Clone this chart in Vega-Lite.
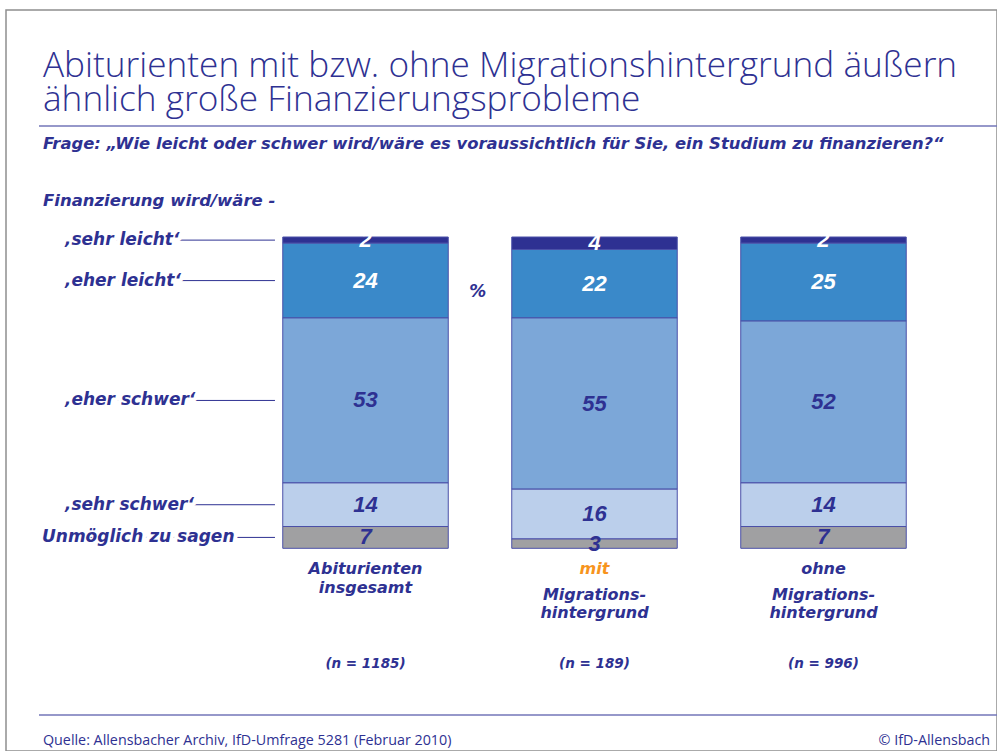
{
  "$schema": "https://vega.github.io/schema/vega-lite/v6.json",
  "width": 991,
  "height": 741,
  "autosize": "none",
  "padding": {"left": 6, "top": 10, "right": 0, "bottom": 0},
  "background": "white",
  "config": {"view": {"stroke": "#8f8f8f", "strokeWidth": 1.5}},
  "datasets": {
    "survey": [
      {"group": "Abiturienten insgesamt", "category": "‚sehr leicht‘", "value": 2},
      {"group": "Abiturienten insgesamt", "category": "‚eher leicht‘", "value": 24},
      {"group": "Abiturienten insgesamt", "category": "‚eher schwer‘", "value": 53},
      {"group": "Abiturienten insgesamt", "category": "‚sehr schwer‘", "value": 14},
      {"group": "Abiturienten insgesamt", "category": "Unmöglich zu sagen", "value": 7},
      {"group": "mit Migrationshintergrund", "category": "‚sehr leicht‘", "value": 4},
      {"group": "mit Migrationshintergrund", "category": "‚eher leicht‘", "value": 22},
      {"group": "mit Migrationshintergrund", "category": "‚eher schwer‘", "value": 55},
      {"group": "mit Migrationshintergrund", "category": "‚sehr schwer‘", "value": 16},
      {"group": "mit Migrationshintergrund", "category": "Unmöglich zu sagen", "value": 3},
      {"group": "ohne Migrationshintergrund", "category": "‚sehr leicht‘", "value": 2},
      {"group": "ohne Migrationshintergrund", "category": "‚eher leicht‘", "value": 25},
      {"group": "ohne Migrationshintergrund", "category": "‚eher schwer‘", "value": 52},
      {"group": "ohne Migrationshintergrund", "category": "‚sehr schwer‘", "value": 14},
      {"group": "ohne Migrationshintergrund", "category": "Unmöglich zu sagen", "value": 7}
    ],
    "groups": [
      {"group": "Abiturienten insgesamt", "head": "Abiturienten\ninsgesamt", "sub": "", "n": 1185},
      {"group": "mit Migrationshintergrund", "head": "mit", "sub": "Migrations-\nhintergrund", "n": 189},
      {"group": "ohne Migrationshintergrund", "head": "ohne", "sub": "Migrations-\nhintergrund", "n": 996}
    ]
  },
  "data": {"name": "survey"},
  "transform": [
    {"calculate": "indexof(['Unmöglich zu sagen', '‚sehr schwer‘', '‚eher schwer‘', '‚eher leicht‘', '‚sehr leicht‘'], datum.category)", "as": "rank"},
    {"stack": "value", "groupby": ["group"], "sort": [{"field": "rank", "order": "ascending"}], "as": ["v0", "v1"]},
    {"calculate": "(datum.v0 + datum.v1) / 2", "as": "mid"}
  ],
  "layer": [
    {
      "mark": {"type": "bar", "stroke": "#4b50a8", "strokeWidth": 1},
      "encoding": {
        "x": {"field": "group", "type": "nominal", "scale": {"type": "band", "domain": ["Abiturienten insgesamt", "mit Migrationshintergrund", "ohne Migrationshintergrund"], "range": [245, 932], "paddingInner": 0.2773, "paddingOuter": 0.1387}, "axis": null},
        "y": {"field": "v1", "type": "quantitative", "scale": {"domain": [-65.11, 172.92], "nice": false, "zero": false}, "axis": null},
        "y2": {"field": "v0"},
        "color": {"field": "category", "type": "nominal", "scale": {"domain": ["‚sehr leicht‘", "‚eher leicht‘", "‚eher schwer‘", "‚sehr schwer‘", "Unmöglich zu sagen"], "range": ["#2e3192", "#3a89c9", "#7ca7d8", "#bbcfeb", "#a0a0a2"]}, "legend": null}
      }
    },
    {
      "mark": {"type": "text", "font": "Liberation Sans", "fontSize": 22, "fontWeight": "bold", "fontStyle": "italic", "baseline": "middle", "align": "center"},
      "encoding": {
        "x": {"field": "group", "type": "nominal"},
        "y": {"field": "mid", "type": "quantitative"},
        "text": {"field": "value"},
        "color": {"condition": {"test": "datum.rank >= 3", "value": "white"}, "value": "#2e3192"}
      }
    },
    {
      "transform": [{"filter": "datum.group === 'Abiturienten insgesamt'"}],
      "mark": {"type": "rule", "color": "#2e3192", "strokeWidth": 1},
      "encoding": {
        "x": {"datum": "Abiturienten insgesamt", "type": "nominal", "bandPosition": -1.298},
        "x2": {"datum": "Abiturienten insgesamt", "bandPosition": -0.047},
        "y": {"field": "mid", "type": "quantitative"}
      }
    },
    {
      "transform": [{"filter": "datum.group === 'Abiturienten insgesamt' && datum.rank > 0"}],
      "mark": {"type": "text", "font": "DejaVu Sans", "fontSize": 17, "fontWeight": "bold", "fontStyle": "italic", "align": "left", "baseline": "middle", "fill": "white", "stroke": "white", "strokeWidth": 8, "strokeJoin": "round"},
      "encoding": {
        "x": {"datum": "Abiturienten insgesamt", "type": "nominal", "bandPosition": -1.316},
        "y": {"field": "mid", "type": "quantitative"},
        "text": {"field": "category"}
      }
    },
    {
      "transform": [{"filter": "datum.group === 'Abiturienten insgesamt' && datum.rank === 0"}],
      "mark": {"type": "text", "font": "DejaVu Sans", "fontSize": 17, "fontWeight": "bold", "fontStyle": "italic", "align": "left", "baseline": "middle", "fill": "white", "stroke": "white", "strokeWidth": 8, "strokeJoin": "round"},
      "encoding": {
        "x": {"datum": "Abiturienten insgesamt", "type": "nominal", "bandPosition": -1.455},
        "y": {"field": "mid", "type": "quantitative"},
        "text": {"field": "category"}
      }
    },
    {
      "transform": [{"filter": "datum.group === 'Abiturienten insgesamt' && datum.rank > 0"}],
      "mark": {"type": "text", "font": "DejaVu Sans", "fontSize": 17, "fontWeight": "bold", "fontStyle": "italic", "align": "left", "baseline": "middle", "color": "#2e3192"},
      "encoding": {
        "x": {"datum": "Abiturienten insgesamt", "type": "nominal", "bandPosition": -1.316},
        "y": {"field": "mid", "type": "quantitative"},
        "text": {"field": "category"}
      }
    },
    {
      "transform": [{"filter": "datum.group === 'Abiturienten insgesamt' && datum.rank === 0"}],
      "mark": {"type": "text", "font": "DejaVu Sans", "fontSize": 17, "fontWeight": "bold", "fontStyle": "italic", "align": "left", "baseline": "middle", "color": "#2e3192"},
      "encoding": {
        "x": {"datum": "Abiturienten insgesamt", "type": "nominal", "bandPosition": -1.455},
        "y": {"field": "mid", "type": "quantitative"},
        "text": {"field": "category"}
      }
    },
    {
      "data": {"values": [{}]},
      "mark": {"type": "text", "font": "DejaVu Sans", "fontSize": 17, "fontWeight": "bold", "fontStyle": "italic", "align": "center", "baseline": "middle", "color": "#2e3192"},
      "encoding": {
        "x": {"datum": "Abiturienten insgesamt", "type": "nominal", "bandPosition": 1.179},
        "y": {"datum": 82.34, "type": "quantitative"},
        "text": {"value": "%"}
      }
    },
    {
      "data": {"name": "groups"},
      "mark": {"type": "text", "font": "DejaVu Sans", "fontSize": 16, "fontWeight": "bold", "fontStyle": "italic", "align": "center", "baseline": "alphabetic", "lineBreak": "\n", "lineHeight": 18.4},
      "encoding": {
        "x": {"field": "group", "type": "nominal"},
        "y": {"datum": -8.35, "type": "quantitative"},
        "text": {"field": "head"},
        "color": {"condition": {"test": "datum.head === 'mit'", "value": "#f7941d"}, "value": "#2e3192"}
      }
    },
    {
      "data": {"name": "groups"},
      "mark": {"type": "text", "font": "DejaVu Sans", "fontSize": 16, "fontWeight": "bold", "fontStyle": "italic", "align": "center", "baseline": "alphabetic", "lineBreak": "\n", "lineHeight": 18.4, "color": "#2e3192"},
      "encoding": {
        "x": {"field": "group", "type": "nominal"},
        "y": {"datum": -16.61, "type": "quantitative"},
        "text": {"field": "sub"}
      }
    },
    {
      "data": {"name": "groups"},
      "transform": [{"calculate": "'(n = ' + datum.n + ')'", "as": "nlabel"}],
      "mark": {"type": "text", "font": "DejaVu Sans", "fontSize": 13.5, "fontWeight": "bold", "fontStyle": "italic", "align": "center", "baseline": "alphabetic", "color": "#2e3192"},
      "encoding": {
        "x": {"field": "group", "type": "nominal"},
        "y": {"datum": -38.29, "type": "quantitative"},
        "text": {"field": "nlabel"}
      }
    },
    {
      "data": {"values": [{}]},
      "mark": {"type": "text", "font": "Open Sans", "fontSize": 35.2, "fontWeight": 300, "align": "left", "baseline": "alphabetic", "lineHeight": 34, "color": "#2e3192"},
      "encoding": {
        "x": {"datum": "Abiturienten insgesamt", "type": "nominal", "bandPosition": -1.449},
        "y": {"datum": 151.4, "type": "quantitative"},
        "text": {"value": ["Abiturienten mit bzw. ohne Migrationshintergrund äußern", "ähnlich große Finanzierungsprobleme"]}
      }
    },
    {
      "data": {"values": [{}]},
      "mark": {"type": "rule", "color": "#7376b9", "strokeWidth": 1.5},
      "encoding": {
        "x": {"datum": "Abiturienten insgesamt", "type": "nominal", "bandPosition": -1.473},
        "x2": {"datum": "Abiturienten insgesamt", "bandPosition": 4.32},
        "y": {"datum": 135.66, "type": "quantitative"}
      }
    },
    {
      "data": {"values": [{}]},
      "mark": {"type": "text", "font": "DejaVu Sans", "fontSize": 16.4, "fontWeight": "bold", "fontStyle": "italic", "align": "left", "baseline": "alphabetic", "color": "#2e3192"},
      "encoding": {
        "x": {"datum": "Abiturienten insgesamt", "type": "nominal", "bandPosition": -1.449},
        "y": {"datum": 128.17, "type": "quantitative"},
        "text": {"value": "Frage:  „Wie leicht oder schwer wird/wäre es voraussichtlich für Sie, ein Studium zu finanzieren?“"}
      }
    },
    {
      "data": {"values": [{}]},
      "mark": {"type": "text", "font": "DejaVu Sans", "fontSize": 16.5, "fontWeight": "bold", "fontStyle": "italic", "align": "left", "baseline": "alphabetic", "color": "#2e3192"},
      "encoding": {
        "x": {"datum": "Abiturienten insgesamt", "type": "nominal", "bandPosition": -1.449},
        "y": {"datum": 109.96, "type": "quantitative"},
        "text": {"value": "Finanzierung wird/wäre -"}
      }
    },
    {
      "data": {"values": [{}]},
      "mark": {"type": "rule", "color": "#7376b9", "strokeWidth": 1.5},
      "encoding": {
        "x": {"datum": "Abiturienten insgesamt", "type": "nominal", "bandPosition": -1.473},
        "x2": {"datum": "Abiturienten insgesamt", "bandPosition": 4.32},
        "y": {"datum": -53.55, "type": "quantitative"}
      }
    },
    {
      "data": {"values": [{}]},
      "mark": {"type": "text", "font": "Open Sans", "fontSize": 14.3, "align": "left", "baseline": "middle", "color": "#2e3192"},
      "encoding": {
        "x": {"datum": "Abiturienten insgesamt", "type": "nominal", "bandPosition": -1.449},
        "y": {"datum": -61.9, "type": "quantitative"},
        "text": {"value": "Quelle: Allensbacher Archiv, IfD-Umfrage 5281 (Februar 2010)"}
      }
    },
    {
      "data": {"values": [{}]},
      "mark": {"type": "text", "font": "Open Sans", "fontSize": 14.3, "align": "left", "baseline": "middle", "color": "#2e3192"},
      "encoding": {
        "x": {"datum": "Abiturienten insgesamt", "type": "nominal", "bandPosition": 3.6},
        "y": {"datum": -61.9, "type": "quantitative"},
        "text": {"value": "© IfD-Allensbach"}
      }
    }
  ]
}
